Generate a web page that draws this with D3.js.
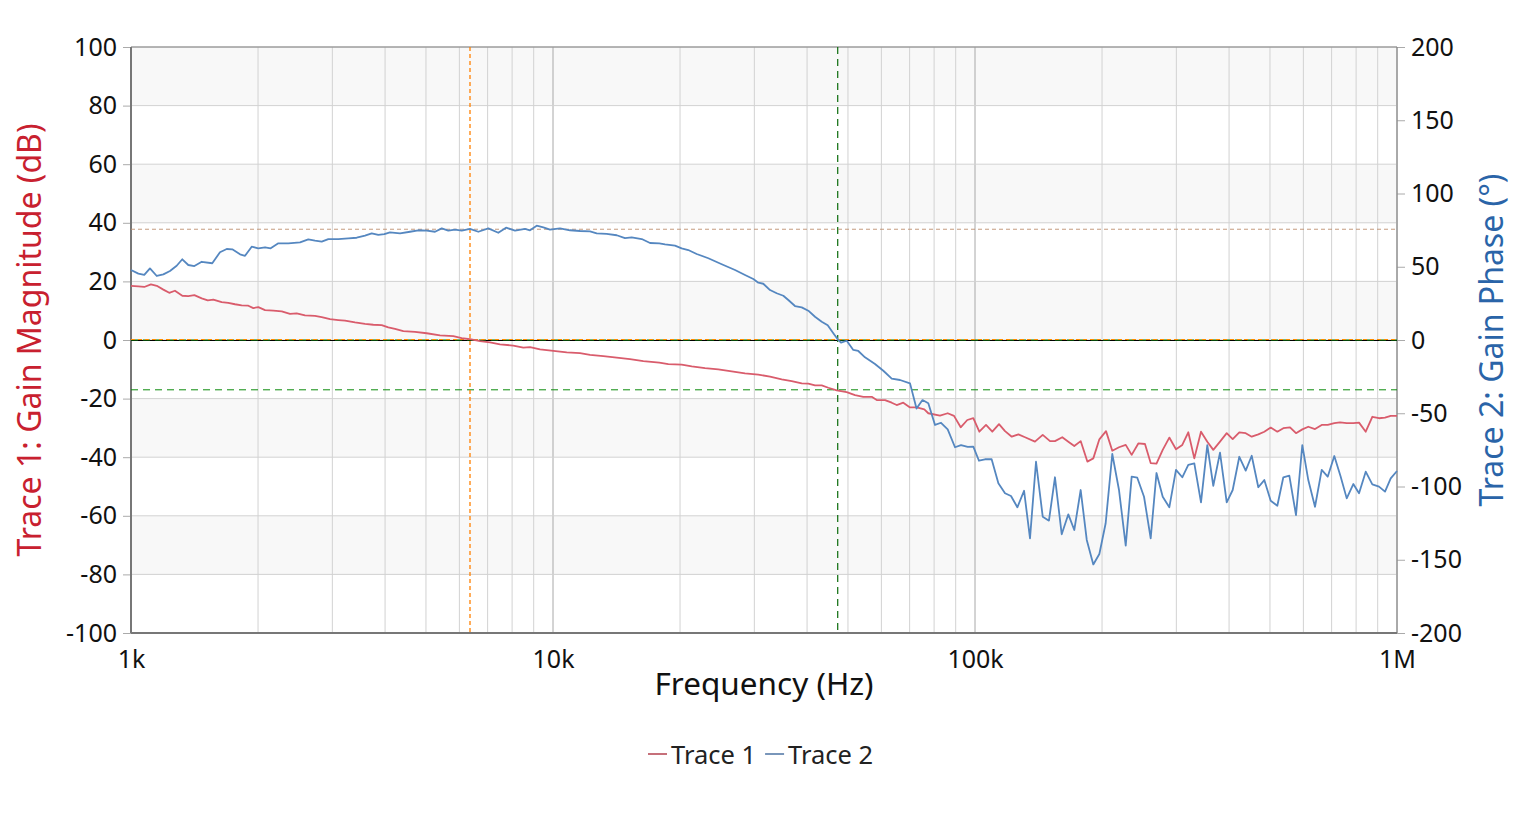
<!DOCTYPE html>
<html>
<head>
<meta charset="utf-8">
<script src="https://cdn.jsdelivr.net/npm/d3@7"></script>
<style>
  body { margin: 0; background: #fff; }
  text { font-family: "Noto Sans", "Open Sans", sans-serif; }
</style>
</head>
<body>
<div id="chart"></div>
<script>
// Trace 1: gain magnitude (dB) vs frequency (Hz)
var magFreq = [1000, 1041, 1075, 1115, 1151, 1193, 1232, 1271, 1323, 1367, 1413, 1471, 1520, 1567, 1640, 1700, 1764, 1829, 1897, 1949,
    2003, 2078, 2174, 2276, 2381, 2470, 2584, 2729, 2831, 2962, 3099, 3215, 3395, 3585, 3751, 3927, 4071, 4223, 4419, 4710,
    5020, 5398, 5805, 6077, 6358, 6715, 7091, 7488, 8052, 8504, 8822, 9317, 10020, 10780, 11590, 12240, 13160, 14160, 15220, 16370,
    17860, 18760, 20180, 21320, 22920, 24640, 26510, 28510, 30660, 32680, 34830, 36780, 38850, 40270, 41770, 43330, 44920, 47020, 49660, 51960,
    54370, 56920, 58490, 61200, 63480, 65230, 67620, 70150, 72760, 75840, 77510, 82620, 86160, 89180, 92490, 95890, 99080, 102400, 106200, 109900,
    114000, 117800, 122200, 126700, 131400, 138700, 144700, 150600, 154700, 161000, 166400, 171900, 178000, 184600, 190700, 197100, 204400, 211500, 219400, 227600,
    235100, 243800, 252800, 260800, 269200, 278500, 288700, 299400, 309900, 320200, 330900, 343200, 355200, 367000, 380700, 394900, 408000, 423000, 438000, 452600,
    469200, 484800, 502000, 520500, 537800, 557800, 576300, 596500, 616300, 639300, 663100, 685200, 710300, 732700, 760100, 787900, 812900, 843100, 874000, 906500,
    936700, 966300, 1000000];
var magDb = [18.5, 18.3, 18.1, 19.0, 18.5, 17.2, 16.1, 16.8, 15.1, 15.0, 15.3, 14.2, 13.5, 13.8, 12.9, 12.7, 12.2, 11.8, 11.7, 10.9,
    11.2, 10.2, 10.0, 9.8, 8.9, 9.1, 8.4, 8.2, 7.8, 7.1, 6.8, 6.6, 6.0, 5.5, 5.2, 5.1, 4.3, 3.8, 3.0, 2.8,
    2.3, 1.6, 1.3, 0.6, 0.3, -0.4, -0.8, -1.5, -1.9, -2.6, -2.4, -3.2, -3.7, -4.2, -4.5, -5.1, -5.5, -6.0, -6.5, -7.2,
    -7.7, -8.2, -8.4, -9.0, -9.6, -10.0, -10.7, -11.4, -11.8, -12.5, -13.4, -14.0, -14.8, -14.9, -15.5, -15.5, -16.3, -17.2, -17.8, -18.8,
    -19.4, -19.4, -20.5, -20.5, -21.4, -22.2, -21.4, -23.0, -23.0, -23.7, -25.0, -25.8, -25.0, -25.9, -29.8, -27.3, -26.7, -31.3, -29.0, -31.3,
    -28.7, -31.1, -33.0, -32.2, -33.2, -34.7, -32.4, -34.5, -34.5, -33.2, -34.7, -36.2, -34.5, -41.5, -40.4, -33.9, -31.1, -37.8, -36.6, -35.8,
    -39.2, -35.3, -35.5, -42.0, -42.2, -37.5, -33.3, -37.3, -35.8, -31.5, -40.4, -31.3, -34.7, -37.5, -34.7, -31.8, -33.8, -31.5, -31.8, -33.0,
    -32.2, -31.3, -29.9, -31.3, -30.1, -29.8, -31.8, -30.5, -29.6, -30.4, -29.0, -29.0, -28.4, -28.1, -28.4, -28.4, -28.2, -31.3, -26.2, -26.7,
    -26.5, -25.9, -25.9];

// Trace 2: gain phase (deg) vs frequency (Hz)
var phaseFreq = [1000, 1041, 1075, 1109, 1151, 1193, 1237, 1283, 1323, 1367, 1413, 1471, 1558, 1625, 1686, 1738, 1813, 1863, 1932, 2003,
    2078, 2143, 2234, 2359, 2515, 2631, 2729, 2831, 2935, 3099, 3273, 3426, 3585, 3719, 3855, 3983, 4109, 4340, 4583, 4795,
    5020, 5253, 5449, 5648, 5859, 6077, 6358, 6653, 7026, 7420, 7739, 8129, 8584, 8822, 9150, 9486, 9839, 10390, 10970, 11590,
    12240, 12690, 13400, 14160, 14810, 15360, 16230, 16980, 17860, 18430, 19460, 20180, 20920, 21900, 23340, 25110, 27000, 28510, 29830, 30660,
    31500, 32680, 33890, 35140, 36110, 37450, 38850, 40270, 41770, 43330, 44770, 46160, 47280, 48140, 49660, 51480, 52900, 54870, 57950, 60640,
    63480, 66420, 70150, 72680, 75090, 77510, 80400, 83080, 86160, 89660, 92650, 96100, 99080, 102200, 105600, 109500, 113600, 117800, 121700, 126000,
    130700, 135000, 139500, 144700, 149700, 154700, 160500, 166400, 171900, 178000, 184000, 190700, 197100, 204000, 211500, 219400, 227600, 235100, 242400, 251500,
    260800, 269200, 278500, 288700, 299400, 309900, 320200, 330900, 343200, 355200, 367000, 380700, 394900, 408000, 423000, 438000, 452600, 469200, 484800, 502000,
    520500, 537800, 555700, 576300, 596500, 616300, 639300, 663100, 685200, 710300, 735500, 760100, 787900, 812900, 843100, 874000, 906500, 936700, 966300, 1000000];
var phaseDeg = [47.8, 45.3, 44.4, 48.9, 43.7, 44.8, 47.1, 50.7, 55.1, 51.2, 50.5, 53.4, 52.4, 59.9, 62.1, 61.9, 58.5, 57.5, 63.7, 62.6,
    63.3, 62.6, 66.0, 66.0, 66.7, 68.7, 67.8, 67.1, 68.9, 68.9, 69.4, 69.8, 71.2, 72.8, 71.7, 72.2, 73.5, 72.8, 73.9, 74.9,
    74.6, 73.9, 76.2, 74.6, 75.3, 74.6, 75.8, 73.9, 76.2, 73.2, 76.7, 74.6, 75.8, 74.9, 78.0, 76.9, 75.3, 76.2, 74.9, 74.4,
    74.2, 72.8, 72.4, 71.5, 69.6, 70.1, 68.9, 66.2, 66.0, 65.3, 64.4, 62.6, 61.4, 58.7, 55.8, 51.7, 47.8, 44.4, 41.6, 39.1,
    38.4, 34.1, 31.9, 30.2, 27.3, 23.2, 22.3, 20.0, 15.9, 12.5, 10.0, 4.6, 0.5, -1.8, -0.5, -6.8, -7.5, -11.8, -16.4, -21.0,
    -26.4, -27.3, -29.6, -46.8, -41.0, -43.2, -58.0, -56.5, -61.0, -73.2, -71.7, -73.0, -72.8, -82.4, -81.4, -81.4, -97.8, -104.6, -106.5, -114.2,
    -102.9, -135.4, -83.1, -120.6, -123.3, -93.7, -132.6, -119.0, -129.7, -102.4, -136.5, -153.2, -146.1, -125.1, -77.8, -102.4, -140.4, -93.3, -94.0, -107.0,
    -135.4, -90.8, -107.0, -114.2, -88.7, -93.7, -85.3, -84.2, -110.8, -71.7, -99.5, -76.9, -110.8, -102.4, -79.7, -89.2, -79.0, -100.5, -95.6, -109.7,
    -113.1, -93.7, -92.6, -119.5, -71.7, -95.6, -113.8, -88.7, -93.3, -79.2, -93.3, -108.1, -98.3, -104.6, -89.9, -98.5, -100.1, -103.5, -94.4, -89.4];

// markers
var crossoverFreq = 6358;      // gain crossover (orange)
var phaseMarginDeg = 75.6;     // phase at crossover (orange)
var phaseCrossFreq = 47280;    // phase crossover (green)
var gainMarginDb = -17;        // gain at phase crossover (green)

var magTicks = [-100, -80, -60, -40, -20, 0, 20, 40, 60, 80, 100];
var phaseTicks = [-200, -150, -100, -50, 0, 50, 100, 150, 200];
var freqTicks = [1e3, 1e4, 1e5, 1e6];
var freqTickLabels = ["1k", "10k", "100k", "1M"];
var seriesNames = ["Trace 1", "Trace 2"];

var width = 1532, height = 814;
var plotLeft = 131, plotRight = 1397, plotTop = 47, plotBottom = 633;

var svg = d3.select("#chart").append("svg")
    .attr("width", width)
    .attr("height", height);

var x = d3.scaleLog().domain([1e3, 1e6]).range([plotLeft, plotRight]);
var yMag = d3.scaleLinear().domain([-100, 100]).range([plotBottom, plotTop]);
var yPh = d3.scaleLinear().domain([-200, 200]).range([plotBottom, plotTop]);

// alternating bands
svg.selectAll("rect.band")
    .data(magTicks.slice(0, -1))
    .enter().append("rect")
    .attr("x", plotLeft)
    .attr("width", plotRight - plotLeft)
    .attr("y", function (d) { return yMag(d + 20); })
    .attr("height", function (d) { return yMag(d) - yMag(d + 20); })
    .attr("fill", function (d, i) { return i % 2 ? "#f8f8f8" : "#ffffff"; });

// grid
svg.selectAll("line.vgrid")
    .data(x.ticks())
    .enter().append("line")
    .attr("x1", function (d) { return x(d); })
    .attr("x2", function (d) { return x(d); })
    .attr("y1", plotTop).attr("y2", plotBottom)
    .attr("stroke", function (d) { return freqTicks.indexOf(d) >= 0 ? "#a8a8a8" : "#d2d2d2"; })
    .attr("stroke-width", 1);

svg.selectAll("line.hgrid")
    .data(magTicks)
    .enter().append("line")
    .attr("x1", plotLeft).attr("x2", plotRight)
    .attr("y1", function (d) { return yMag(d); })
    .attr("y2", function (d) { return yMag(d); })
    .attr("stroke", "#d2d2d2");

// axes
var plain = function (d) { return String(d); };
var axL = svg.append("g").attr("transform", "translate(" + plotLeft + ",0)")
    .call(d3.axisLeft(yMag).tickValues(magTicks).tickFormat(plain).tickSize(8).tickPadding(6));
var axR = svg.append("g").attr("transform", "translate(" + plotRight + ",0)")
    .call(d3.axisRight(yPh).tickValues(phaseTicks).tickFormat(plain).tickSize(8).tickPadding(6));
var axB = svg.append("g").attr("transform", "translate(0," + plotBottom + ")")
    .call(d3.axisBottom(x).tickValues(freqTicks).tickSize(0).tickPadding(17)
        .tickFormat(function (d, i) { return freqTickLabels[i]; }));

[axL, axR, axB].forEach(function (g) {
    g.selectAll(".tick line").attr("stroke", "#aaaaaa");
    g.select(".domain").remove();
    g.selectAll(".tick text")
        .style("font-family", "'Noto Sans', 'Open Sans', sans-serif")
        .style("font-size", "25px")
        .attr("fill", "#111");
});

// frame
svg.append("line").attr("x1", plotLeft).attr("x2", plotRight).attr("y1", plotTop).attr("y2", plotTop).attr("stroke", "#808080");
svg.append("line").attr("x1", plotRight).attr("x2", plotRight).attr("y1", plotTop).attr("y2", plotBottom).attr("stroke", "#808080");
svg.append("line").attr("x1", plotLeft).attr("x2", plotLeft).attr("y1", plotTop).attr("y2", plotBottom).attr("stroke", "#777").attr("stroke-width", 2);
svg.append("line").attr("x1", plotLeft).attr("x2", plotRight).attr("y1", plotBottom).attr("y2", plotBottom).attr("stroke", "#777").attr("stroke-width", 2);

// reference lines
var refs = svg.append("g");
refs.append("line")
    .attr("x1", plotLeft).attr("x2", plotRight)
    .attr("y1", yMag(0) + 0.5).attr("y2", yMag(0) + 0.5)
    .attr("stroke", "#000").attr("stroke-width", 1.2);
refs.append("line")
    .attr("x1", plotLeft).attr("x2", plotRight)
    .attr("y1", yMag(0)).attr("y2", yMag(0))
    .attr("stroke", "#0a8a0a").attr("stroke-dasharray", "7,5");
refs.append("line")
    .attr("x1", plotLeft).attr("x2", plotRight)
    .attr("y1", yMag(gainMarginDb)).attr("y2", yMag(gainMarginDb))
    .attr("stroke", "#0a8a0a").attr("stroke-dasharray", "7,5");
refs.append("line")
    .attr("x1", x(phaseCrossFreq)).attr("x2", x(phaseCrossFreq))
    .attr("y1", plotTop).attr("y2", plotBottom)
    .attr("stroke", "#0a6a0a").attr("stroke-dasharray", "7,5").attr("stroke-width", 1.2);
refs.append("line")
    .attr("x1", plotLeft).attr("x2", plotRight)
    .attr("y1", yPh(0) - 0.5).attr("y2", yPh(0) - 0.5)
    .attr("stroke", "#ff8c00").attr("stroke-dasharray", "4,3");
refs.append("line")
    .attr("x1", plotLeft).attr("x2", plotRight)
    .attr("y1", yPh(phaseMarginDeg)).attr("y2", yPh(phaseMarginDeg))
    .attr("stroke", "#c09070").attr("stroke-dasharray", "4,3").attr("stroke-width", 0.9);
refs.append("line")
    .attr("x1", x(crossoverFreq)).attr("x2", x(crossoverFreq))
    .attr("y1", plotTop).attr("y2", plotBottom)
    .attr("stroke", "#ff8000").attr("stroke-dasharray", "4,3").attr("stroke-width", 1.3);

// traces
var magLine = d3.line()
    .x(function (d, i) { return x(magFreq[i]); })
    .y(function (d) { return yMag(d); });
var phLine = d3.line()
    .x(function (d, i) { return x(phaseFreq[i]); })
    .y(function (d) { return yPh(d); });

svg.append("path")
    .attr("d", magLine(magDb))
    .attr("fill", "none")
    .attr("stroke", "#d95c6c")
    .attr("stroke-width", 1.8)
    .attr("stroke-linejoin", "round");
svg.append("path")
    .attr("d", phLine(phaseDeg))
    .attr("fill", "none")
    .attr("stroke", "#5587c0")
    .attr("stroke-width", 1.8)
    .attr("stroke-linejoin", "round");

// titles
svg.append("text")
    .attr("x", (plotLeft + plotRight) / 2).attr("y", 695)
    .attr("text-anchor", "middle")
    .style("font-size", "31.5px").attr("fill", "#111")
    .text("Frequency (Hz)");
svg.append("text")
    .attr("transform", "translate(41," + (plotTop + plotBottom) / 2 + ") rotate(-90)")
    .attr("text-anchor", "middle")
    .style("font-size", "32px").attr("fill", "#c8202f")
    .text("Trace 1: Gain Magnitude (dB)");
svg.append("text")
    .attr("transform", "translate(1503," + (plotTop + plotBottom) / 2 + ") rotate(-90)")
    .attr("text-anchor", "middle")
    .style("font-size", "32px").attr("fill", "#2a64a8")
    .text("Trace 2: Gain Phase (°)");

// legend
var legendColors = ["#a01020", "#1f4f8c"];
var lg = svg.append("g");
var lx = 648;
seriesNames.forEach(function (name, i) {
    lg.append("line")
        .attr("x1", lx).attr("x2", lx + 19)
        .attr("y1", 754).attr("y2", 754)
        .attr("stroke", legendColors[i]).attr("stroke-width", 1.2);
    var t = lg.append("text")
        .attr("x", lx + 23).attr("y", 764)
        .style("font-size", "25.5px").attr("fill", "#222")
        .text(name);
    lx += 23 + t.node().getComputedTextLength() + 9;
});
</script>
</body>
</html>
